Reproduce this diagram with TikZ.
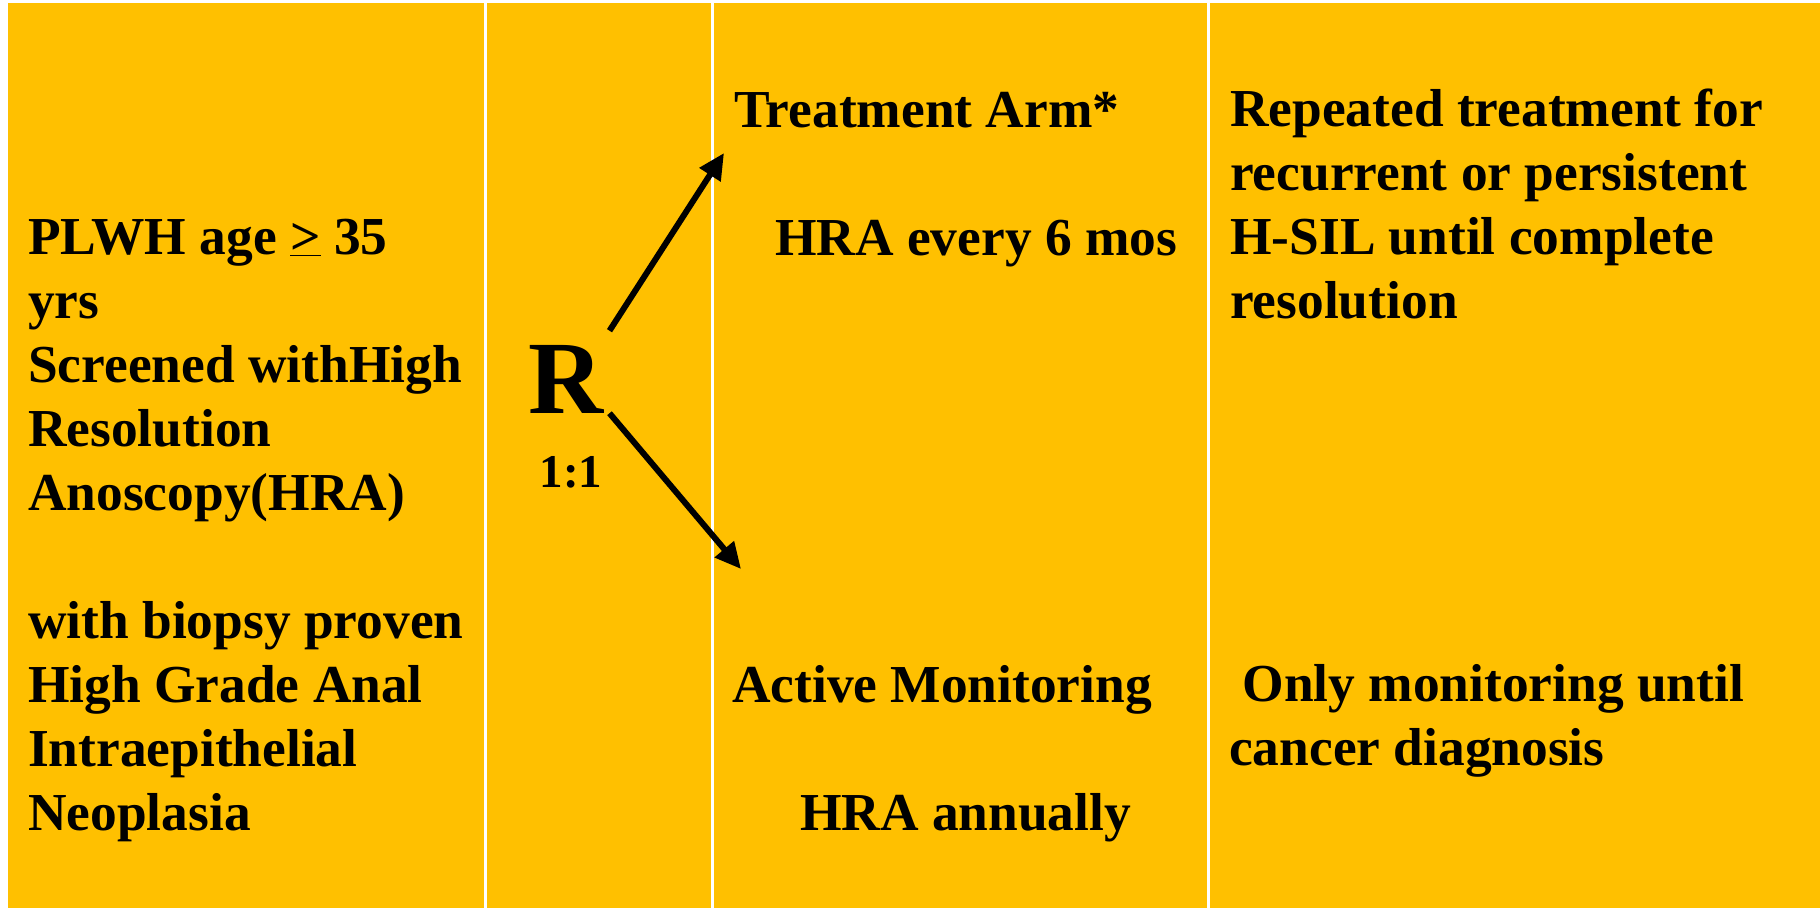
\documentclass[tikz,border=0pt]{standalone}
\usepackage{fontspec}
\setmainfont{Liberation Serif}
\usetikzlibrary{arrows.meta}
\definecolor{cellyellow}{HTML}{FFC000}

\begin{document}
\begin{tikzpicture}[
    x = 1pt, y = -1pt,
    every node/.style={ inner sep = 0pt, align = left, anchor = base west,
      font = \fontsize{53.4}{64}\selectfont\bfseries },
    cell/.style={ fill = cellyellow },
    arr/.style={ line width = 6pt, -{Triangle[length=26pt,width=24pt]} }
    ]
  \useasboundingbox (0,0) rectangle (1820,908);
  \fill[white] (0,0) rectangle (1820,908);
  \fill[cell] (8,3) rectangle (483.5,908);
  \fill[cell] (487,3) rectangle (710.7,908);
  \fill[cell] (713.8,3) rectangle (1207,908);
  \fill[cell] (1210,3) rectangle (1820,908);
  % multi-line nodes sit on the baseline of their last line
  \node (elig) at (28,830) {PLWH age \underline{>} 35\\ yrs\\ Screened withHigh\\
    Resolution\\ Anoscopy(HRA)\\[64pt] with biopsy proven\\ High Grade Anal\\
    Intraepithelial\\ Neoplasia};
  \node (rand) [font = \fontsize{104}{120}\selectfont\bfseries] at (528,413) {R};
  \node (ratio) [anchor = base, font = \fontsize{47}{56}\selectfont\bfseries]
    at (571,487) {1:1};
  \node (treat) at (734,127) {Treatment Arm*};
  \node (treatfu) at (775,255) {HRA every 6 mos};
  \node (monit) at (732,702) {Active Monitoring};
  \node (monitfu) at (800,830) {HRA annually};
  \node (retreat) at (1230,318) {Repeated treatment for\\ recurrent or persistent\\
    H-SIL until complete\\ resolution};
  \node (watch) at (1229,765) {\ Only monitoring until\\ cancer diagnosis};
  \coordinate (armtop) at (724,153);
  \coordinate (armbot) at (741,569);
\draw[arr] ([xshift=6pt,yshift=14pt]rand.north east) -- (armtop);
\draw[arr] ([xshift=6pt]rand.south east) -- (armbot);
\end{tikzpicture}
\end{document}
